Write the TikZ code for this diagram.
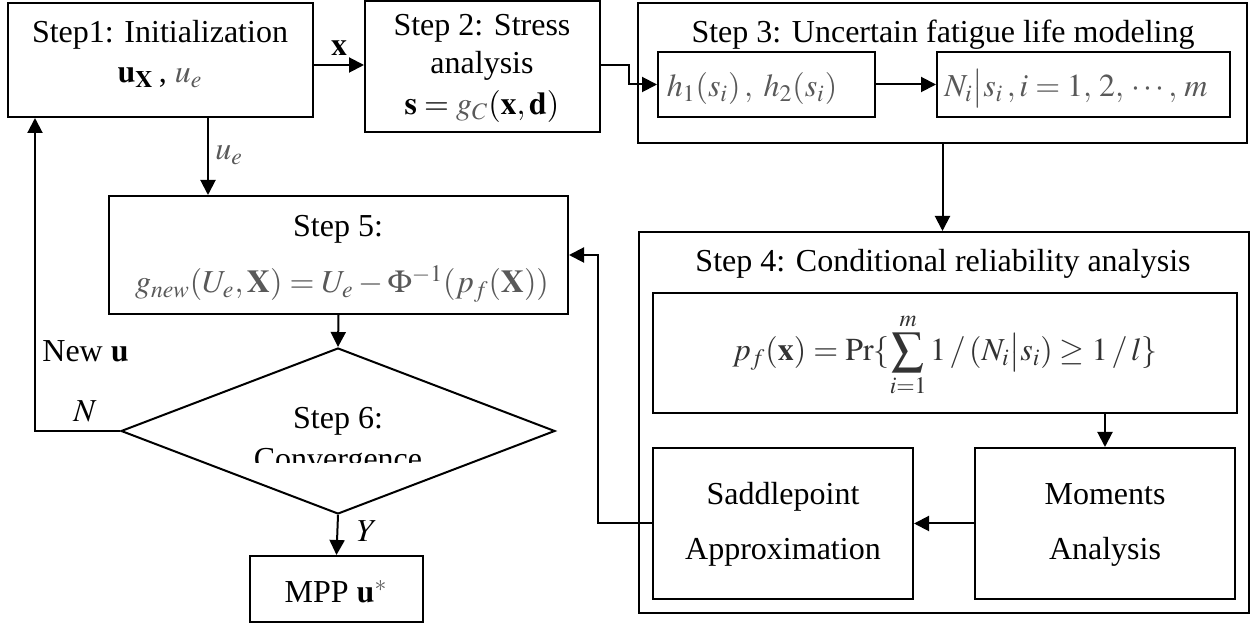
\documentclass[tikz,border=0pt]{standalone}
\usepackage{mathptmx}
\usepackage{fontspec}
\setmainfont{Liberation Serif}
\usetikzlibrary{arrows.meta,shapes.geometric}
\definecolor{mg}{gray}{0.35}
\newcommand{\bx}[5]{\node[box,minimum width={(#4-#2)*0.5pt},minimum height={(#5-#3)*0.5pt}] (#1) at ({(#2+#4)/2},{(#3+#5)/2}) {};}
\begin{document}
\begin{tikzpicture}[x=0.5pt,y=-0.5pt,
  every node/.style={font=\fontsize{16}{19}\selectfont},
  box/.style={draw,line width=1pt,inner sep=0pt},
  txt/.style={anchor=base,inner sep=0pt},
  arr/.style={line width=1pt,-{Triangle[length=7.5pt,width=7.5pt]}},
  ln/.style={line width=1pt}]
\fill[white] (0,0) rectangle (1250,625);
\useasboundingbox (0,0) rectangle (1250,625);
% boxes
\bx{s1}{8}{3}{313}{117}
\bx{s2}{365}{1}{600}{132}
\bx{s3}{638}{3}{1247}{143}
\bx{hb}{658}{52}{875}{117}
\bx{nb}{937}{52}{1230}{117}
\bx{s4}{639}{232}{1249}{613}
\bx{pf}{653}{293}{1237}{413}
\bx{sad}{653}{448}{913}{599}
\bx{mom}{975}{448}{1235}{599}
\bx{s5}{109}{196}{568}{314}
\bx{mpp}{250}{556}{423}{622}
\node[draw,diamond,line width=1pt,inner sep=0pt,minimum width={434*0.5pt},minimum height={166*0.5pt}] (dia) at (338,431) {};
% texts
\node[txt] (t1a) at (160,43) {Step1: Initialization};
\node[txt] (t1b) at (160,83) {$\mathbf{u}_{\mathbf{X}}$\,, \textcolor{mg}{$u_e$}};
\node[txt] (t2a) at (482,36) {Step 2: Stress};
\node[txt] (t2b) at (482,74) {analysis};
\node[txt] (t2c) at (482,115) {$\mathbf{s}=\textcolor{mg}{g_C}(\mathbf{x},\mathbf{d})$};
\node[txt] (t3) at (943,43) {Step 3: Uncertain fatigue life modeling};
\node[txt,text=mg] (th) at (752,97) {$h_1(s_i)\,,\; h_2(s_i)$};
\node[txt,text=mg] (tn) at (1076,97) {$N_i\big|s_i\,, i=1,\,2,\,\cdots,\,m$};
\node[txt] (t4) at (943,272) {Step 4: Conditional reliability analysis};
\node[text=black!80,inner sep=0pt] (tpf) at (945,355) {$\displaystyle p_f(\mathbf{x})=\Pr\{\sum_{i=1}^{m}1\,/\,(N_i\big|s_i)\ge 1\,/\,l\}$};
\node[txt] (tsa) at (783,505) {Saddlepoint};
\node[txt] (tsb) at (783,560) {Approximation};
\node[txt] (tma) at (1105,505) {Moments};
\node[txt] (tmb) at (1105,560) {Analysis};
\node[txt] (t5a) at (338,237) {Step 5:};
\node[txt,text=mg] (t5b) at (342,293) {$g_{new}(U_e,\mathbf{X})=U_e-\Phi^{-1}(p_f(\mathbf{X}))$};
\node[txt] (t6a) at (338,429) {Step 6:};
\begin{scope}
\clip (150,435) rectangle (520,463);
\node[txt] (t6b) at (338,470) {Convergence};
\end{scope}
\node[txt] (tmpp) at (336,603) {MPP $\mathbf{u}^{\textcolor{mg}{*}}$};
% connectors
\coordinate (lx) at (35,0);
\coordinate (ux) at (208,0);
\draw[arr] ([yshift=-2.5pt]s1.east) -- ([yshift=-2.5pt]s1.east -| s2.west) node[midway,above=1pt] (lbx) {$\mathbf{x}$};
\draw[arr] ([yshift=0.75pt]s2.east) -- ++(28,0) |- (hb.west);
\draw[arr] (hb.east) -- (nb.west);
\draw[arr] (s3.south) -- (s3.south |- s4.north);
\draw[arr] (pf.south -| mom.north) -- (mom.north);
\draw[arr] (mom.west) -- (sad.east);
\draw[arr] (sad.west) -- ++(-54,0) |- (s5.east);
\draw[arr] (s1.south -| ux) -- (s5.north -| ux);
\node[anchor=base west,inner sep=0pt,text=mg] (lue) at (215,160) {$u_e$};
\draw[arr] (s5.south) -- (dia.north);
\draw[arr] (dia.west) -| (s1.south -| lx);
\draw[arr] (dia.south) -- (mpp.north);
\node[anchor=base west,inner sep=0pt] (lnew) at (42,362) {New $\mathbf{u}$};
\node[txt] (lN) at (85,422) {$N$};
\node[txt] (lY) at (367,542) {$Y$};
\end{tikzpicture}
\end{document}
